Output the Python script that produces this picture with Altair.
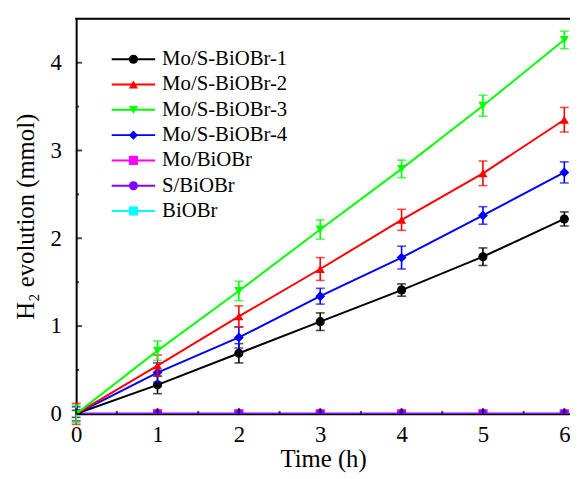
import altair as alt
import pandas as pd

times = [0, 1, 2, 3, 4, 5, 6]
series_names = ["Mo/S-BiOBr-1", "Mo/S-BiOBr-2", "Mo/S-BiOBr-3", "Mo/S-BiOBr-4",
                "Mo/BiOBr", "S/BiOBr", "BiOBr"]
colors = ["#000000", "#FF0000", "#00FF00", "#0000FF", "#FF00FF", "#8000FF", "#00FFFF"]
shapes = ["circle", "triangle-up", "triangle-down", "diamond", "square", "circle", "square"]

v1 = [0, 0.33, 0.69, 1.05, 1.41, 1.79, 2.22]
v2 = [0, 0.55, 1.11, 1.65, 2.21, 2.74, 3.35]
v3 = [0, 0.72, 1.40, 2.10, 2.79, 3.51, 4.26]
v4 = [0, 0.47, 0.87, 1.34, 1.78, 2.26, 2.75]
v5 = [0, 0, 0, 0, 0, 0, 0]
v6 = [0, 0, 0, 0, 0, 0, 0]
v7 = [0, 0, 0, 0, 0, 0, 0]

e1 = [0.04, 0.10, 0.11, 0.10, 0.07, 0.10, 0.08]
e2 = [0.12, 0.12, 0.12, 0.13, 0.12, 0.14, 0.14]
e3 = [0.10, 0.11, 0.11, 0.11, 0.10, 0.12, 0.10]
e4 = [0.08, 0.11, 0.12, 0.09, 0.13, 0.10, 0.12]
e5 = [0, 0, 0, 0, 0, 0, 0]
e6 = [0, 0, 0, 0, 0, 0, 0]
e7 = [0, 0, 0, 0, 0, 0, 0]

vals = [v1, v2, v3, v4, v5, v6, v7]
errs = [e1, e2, e3, e4, e5, e6, e7]

W, H = 500, 400
FONT = "Liberation Serif"

draw_order = [6, 4, 5, 0, 3, 1, 2]

xs = alt.Scale(domain=[0, 6.07], nice=False, zero=False)
ys = alt.Scale(domain=[0, 4.5], nice=False)

x_axis = alt.Axis(values=times, title="Time (h)", ticks=False, grid=False, format="d",
                  domainColor="black", domainWidth=2, labelFont=FONT,
                  labelFontSize=23, labelColor="black", labelPadding=10,
                  titleFont=FONT, titleFontSize=25, titleFontWeight="normal",
                  titleColor="black", titlePadding=0, labelFlush=False)
y_axis = alt.Axis(values=[0, 1, 2, 3, 4], title="H₂ evolution (mmol)", ticks=False, format="d",
                  grid=False, domainColor="black", domainWidth=2, labelFont=FONT,
                  labelFontSize=23, labelColor="black", labelPadding=15,
                  titleFont=FONT, titleFontSize=25, titleFontWeight="normal",
                  titleColor="black", titlePadding=12, labelFlush=False)

layers = []
for i in draw_order:
    df = pd.DataFrame({"t": times, "v": vals[i], "e": errs[i]})
    df["lo"] = df["v"] - df["e"]
    df["hi"] = df["v"] + df["e"]
    base = alt.Chart(df)
    c = colors[i]
    X = alt.X("t:Q", scale=xs, axis=x_axis)
    line = base.mark_line(color=c, strokeWidth=2, clip=True).encode(
        x=X, y=alt.Y("v:Q", scale=ys, axis=y_axis))
    pts = base.mark_point(shape=shapes[i], filled=True, color=c, opacity=1,
                          size=85 if shapes[i] != "diamond" else 100, clip=True).encode(
        x=X, y=alt.Y("v:Q", scale=ys, axis=y_axis))
    if max(errs[i]) > 0:
        eb = base.mark_rule(color=c, strokeWidth=1.6).encode(
            x=X, y=alt.Y("lo:Q", scale=ys, axis=y_axis), y2="hi:Q")
        caplo = base.mark_tick(color=c, orient="horizontal", size=9, thickness=1.6).encode(
            x=X, y=alt.Y("lo:Q", scale=ys, axis=y_axis))
        caphi = base.mark_tick(color=c, orient="horizontal", size=9, thickness=1.6).encode(
            x=X, y=alt.Y("hi:Q", scale=ys, axis=y_axis))
        layers += [eb, caplo, caphi]
    layers += [line, pts]

# inward ticks
xmaj = pd.DataFrame({"t": [0, 1, 2, 3, 4, 5, 6]})
xmin = pd.DataFrame({"t": [0.5, 1.5, 2.5, 3.5, 4.5, 5.5]})
ymaj = pd.DataFrame({"v": [0, 1, 2, 3, 4]})
ymin = pd.DataFrame({"v": [0.5, 1.5, 2.5, 3.5]})
layers.append(alt.Chart(xmaj).mark_tick(color="black", orient="vertical", size=6, thickness=2)
              .encode(x=alt.X("t:Q", scale=xs, axis=x_axis), y=alt.value(H - 3)))
layers.append(alt.Chart(xmin).mark_tick(color="black", orient="vertical", size=3, thickness=2)
              .encode(x=alt.X("t:Q", scale=xs, axis=x_axis), y=alt.value(H - 1.5)))
layers.append(alt.Chart(ymaj).mark_tick(color="black", orient="horizontal", size=6, thickness=2)
              .encode(y=alt.Y("v:Q", scale=ys, axis=y_axis), x=alt.value(3)))
layers.append(alt.Chart(ymin).mark_tick(color="black", orient="horizontal", size=3, thickness=2)
              .encode(y=alt.Y("v:Q", scale=ys, axis=y_axis), x=alt.value(1.5)))

# top frame line
layers.append(alt.Chart(pd.DataFrame({"a": [0]})).mark_rule(color="black", strokeWidth=2)
              .encode(x=alt.value(-1), x2=alt.value(W + 2), y=alt.value(0)))

# custom legend
leg = pd.DataFrame({"name": series_names, "idx": list(range(7))})
leg_base = alt.Chart(leg).transform_calculate(
    ly="41 + 25.6*datum.idx", lx1="36", lx2="80", lm="58", lt="87")
cscale = alt.Scale(domain=series_names, range=colors)
sscale = alt.Scale(domain=series_names, range=shapes)
layers.append(leg_base.mark_rule(strokeWidth=2).encode(
    x=alt.X("lx1:Q", scale=None), x2="lx2:Q", y=alt.Y("ly:Q", scale=None),
    color=alt.Color("name:N", scale=cscale, legend=None)))
layers.append(leg_base.mark_point(filled=True, opacity=1, size=85).encode(
    x=alt.X("lm:Q", scale=None), y=alt.Y("ly:Q", scale=None),
    color=alt.Color("name:N", scale=cscale, legend=None),
    shape=alt.Shape("name:N", scale=sscale, legend=None)))
layers.append(leg_base.mark_text(align="left", baseline="middle", font=FONT, fontSize=21,
                                 color="black").encode(
    x=alt.X("lt:Q", scale=None), y=alt.Y("ly:Q", scale=None), text="name:N"))

chart = alt.layer(*layers).resolve_scale(color="independent", shape="independent").properties(
    width=W, height=H,
    autosize=alt.AutoSizeParams(type="none"),
    padding={"left": 69, "top": 8, "right": 0, "bottom": 60},
).configure_view(stroke=None).configure(background="white")

chart.save("out.html", embed_options={"renderer": "svg", "actions": False})
